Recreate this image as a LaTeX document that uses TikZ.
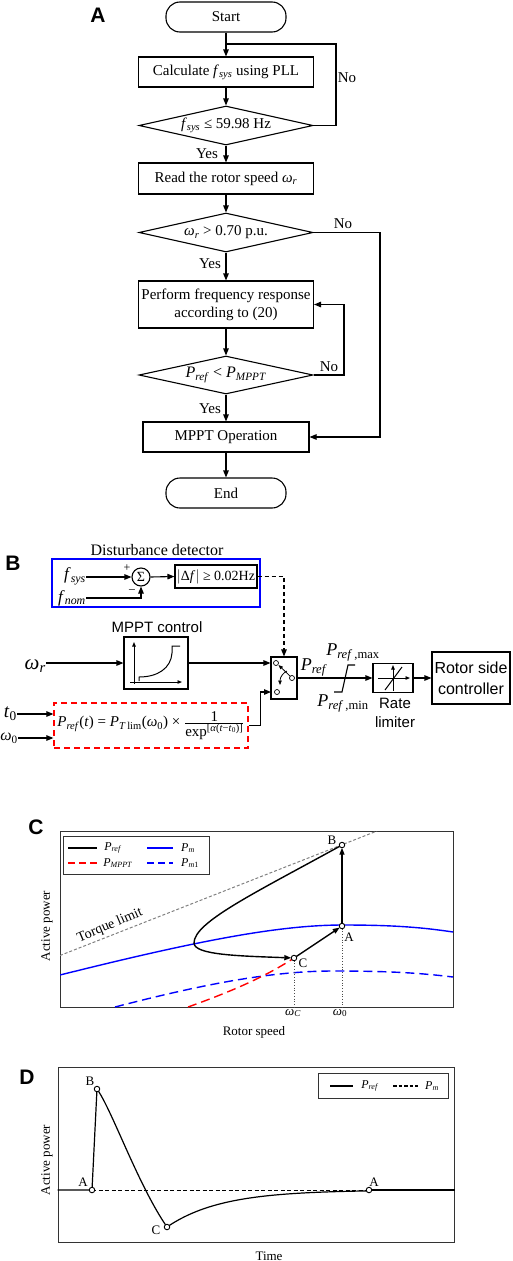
\documentclass[tikz,border=0pt]{standalone}
\usepackage{fontspec}
\setmainfont{Liberation Serif}
\newfontfamily\arialf{Liberation Sans}
\usetikzlibrary{arrows.meta,shapes.geometric,calc}
\newcommand{\iv}[2]{\textit{#1}\textsubscript{\textit{#2}}}
\newcommand{\fsz}[1]{\fontsize{#1}{#1}\selectfont}
\begin{document}
\begin{tikzpicture}[x=1pt,y=-1pt,
  fc/.style={draw, line width=1.1pt, font=\fontsize{15}{18}\selectfont, inner sep=0pt, align=center},
  proc/.style={fc, rectangle, minimum width=175pt, minimum height=30pt},
  term/.style={fc, rectangle, rounded corners=14pt, minimum width=120pt, minimum height=30pt},
  dec/.style={fc, diamond, aspect=4.46, minimum width=174pt, minimum height=39pt},
  ln/.style={line width=1.1pt},
  arr/.style={line width=1.1pt, -{Triangle[length=7pt,width=5.5pt]}},
  sarr/.style={line width=0.9pt, -{Triangle[length=4.5pt,width=3.5pt]}},
  lbl/.style={font=\fsz{15}, inner sep=0pt},
  panel/.style={font=\arialf\bfseries\fsz{21}, inner sep=0pt},
  ax/.style={font=\fsz{13}, inner sep=0pt},
  pt/.style={circle, draw, fill=white, line width=0.9pt, minimum size=5.5pt, inner sep=0pt},
  frame/.style={draw=black!80, line width=1pt, inner sep=0pt},
  curve/.style={line width=1.4pt},
  dsh/.style={dash pattern=on 9pt off 5pt},
]
\useasboundingbox (0,0) rectangle (512,1261);

% ================= Panel A =================
\node[panel] (lA) at (98,15) {A};
\node[term] (start) at (226,17) {Start};
\node[proc] (calc) at (226,72) {Calculate \iv{f}{sys} using PLL};
\node[dec] (d1) at (226,125.5) {\iv{f}{sys} ≤ 59.98 Hz};
\node[proc, minimum height=31pt] (read) at (226,178.5) {Read the rotor speed \iv{ω}{r}};
\node[dec] (d2) at (226,232.5) {\iv{ω}{r} > 0.70 p.u.};
\node[proc, minimum height=47pt] (perf) at (226,304.5) {Perform frequency response\\according to (20)};
\node[dec, minimum height=38pt, font=\fsz{16}] (d3) at (226,375) {\iv{P}{ref} < \iv{P}{MPPT}};
\node[proc, minimum width=166pt] (op) at (226,437) {MPPT Operation};
\node[term] (end) at (226,493) {End};

\coordinate (j1) at (226,44);
\coordinate (n1) at (336,44);
\coordinate (n2) at (380,232.5);
\coordinate (n3) at (344,375);

\draw[arr] (start) -- (calc);
\draw[ln] (d1.east) -| (n1) -- (j1);
\draw[arr] (calc) -- (d1);
\draw[arr] (d1) -- (read);
\draw[arr] (read) -- (d2);
\draw[arr] (d2) -- (perf);
\draw[arr] (d2.east) -- (n2) |- (op.east);
\draw[arr] (perf) -- (d3);
\draw[arr] (d3.east) -- (n3) |- (perf.east);
\draw[arr] (d3) -- (op);
\draw[arr] (op) -- (end);

\node[lbl] (no1) at (347,78) {No};
\node[lbl] (yes1) at (207,154) {Yes};
\node[lbl] (no2) at (343,224) {No};
\node[lbl] (yes2) at (210,264) {Yes};
\node[lbl] (no3) at (329,367) {No};
\node[lbl] (yes3) at (210,409) {Yes};

% ================= Panel B =================
\node[panel] (lB) at (13,563) {B};
\node[font=\fsz{16}, inner sep=0pt] (ddl) at (157,550) {Disturbance detector};
\node[draw=blue, line width=1.2pt, minimum width=208pt, minimum height=48pt, inner sep=0pt] (ddbox) at (156,583) {};
\node[font=\fsz{17}, inner sep=0pt, anchor=east] (fsys) at (86,576) {\iv{f}{sys}};
\node[font=\fsz{17}, inner sep=0pt, anchor=east] (fnom) at (86,598) {\iv{f}{nom}};
\node[circle, draw, line width=1.1pt, minimum size=18pt, inner sep=0pt, font=\fsz{14}] (sum) at (141,577) {Σ};
\node[font=\fsz{12}, inner sep=0pt] (plus) at (127,568) {+};
\node[font=\fsz{13}, inner sep=0pt] (minus) at (132,592) {−};
\node[draw, line width=1.1pt, minimum width=82pt, minimum height=23pt, inner sep=0pt, font=\fsz{14}] (df) at (216,576.5) {$\big|$Δ\textit{f}$\big|$ ≥ 0.02Hz};
\draw[arr] (fsys.east |- sum.west) -- (sum.west);
\draw[arr] (fnom.east) -| (sum.south);
\draw[arr] (sum.east) -- (df.west);

\node[font=\arialf\fsz{15}, inner sep=0pt] (mpl) at (157,627) {MPPT control};
\node[draw, line width=1.1pt, minimum width=64pt, minimum height=52pt, inner sep=0pt] (mb) at (156,663) {};
\draw[sarr] (134,684) -- (134,642);
\draw[sarr] (130,682) -- (182,682);
\draw[line width=1pt] (139,681) -- (139,677) .. controls (158,677) and (171,668) .. (172,653) -- (172,646) -- (180,646);

\node[font=\fsz{21}, inner sep=0pt, anchor=east] (wr) at (46,666) {\textit{ω}\textsubscript{\textit{r}}};
\draw[arr] (wr.east |- mb.west) -- (mb.west);

\node[draw, line width=1.1pt, minimum width=26pt, minimum height=42pt, inner sep=0pt] (sw) at (284,678) {};
\draw[arr, dash pattern=on 4pt off 3pt] (df.east) -| (sw.north);
\draw[arr] (mb.east) -- (mb.east -| sw.west);
\draw[sarr, line width=0.8pt] (291,677) -- (278.5,665);
\draw[sarr, line width=0.8pt] (287,671) .. controls (283,673) and (280,677) .. (280,685);
\node[pt, minimum size=5pt, line width=0.7pt] (s1) at (276,663) {};
\node[pt, minimum size=5pt, line width=0.7pt] (s2) at (292,678) {};
\node[pt, minimum size=5pt, line width=0.7pt] (s3) at (277,692) {};

\node[draw=red, line width=1.2pt, dash pattern=on 6pt off 4pt, minimum width=194pt, minimum height=45pt, inner sep=0pt, font=\fsz{15}] (rb) at (151,725.5)
  {$\mbox{\iv{P}{ref}(\textit{t}) = \textit{P}\textsubscript{\textit{T}\,lim}(\textit{ω}\textsubscript{0}) × }\frac{\mbox{1}}{\mbox{exp\textsuperscript{[\textit{α}(\textit{t}−\textit{t}\textsubscript{0})]}}}$};
\node[font=\fsz{19}, inner sep=0pt, anchor=east] (t0) at (17,714) {\textit{t}\textsubscript{0}};
\node[font=\fsz{16}, inner sep=0pt, anchor=east] (w0) at (18,738) {\textit{ω}\textsubscript{0}};
\draw[arr] (t0.east) -- (t0.east -| rb.west);
\draw[arr] (w0.east) -- (w0.east -| rb.west);
\coordinate (swin) at (271,692);
\draw[arr] (rb.east) -- ++(12,0) |- (swin);

\node[draw, line width=1.1pt, minimum width=40pt, minimum height=29pt, inner sep=0pt] (rl) at (393,678) {};
\draw[arr] (sw.east) -- (rl.west);
\draw[line width=1.1pt] (334,692) -- (342,692) -- (348,665) -- (355,665);
\draw[sarr] (378,678) -- (410,678);
\draw[sarr] (393,691) -- (393,665);
\draw[line width=1pt] (385,690) -- (402,667);
\node[font=\arialf\fontsize{15}{19}\selectfont, align=center, inner sep=0pt] (rll) at (395,712.5) {Rate\\limiter};
\node[draw, line width=1.1pt, minimum width=78pt, minimum height=52pt, inner sep=0pt, align=center, font=\arialf\fontsize{16}{21}\selectfont] (rsc) at (471,678) {Rotor side\\controller};
\draw[arr] (rl.east) -- (rsc.west);
\node[font=\fsz{18}, inner sep=0pt] (pref) at (314,667) {\iv{P}{ref}};
\node[font=\fsz{18}, inner sep=0pt] (pmax) at (353,652) {\textit{P}\textsubscript{\textit{ref}\,,max}};
\node[font=\fsz{18}, inner sep=0pt] (pmin) at (343,703) {\textit{P}\textsubscript{\textit{ref}\,,min}};

% ================= Panel C =================
\node[panel] (lC) at (36,827) {C};
\node[frame, minimum width=393pt, minimum height=176pt] (pc) at (256.5,919) {};
\coordinate (ca) at (342,926);
\coordinate (cb) at (342,845);
\coordinate (cc) at (294,958);
\coordinate (nose) at (194,943);
\begin{scope}
\clip (60,831) rectangle (453,1007);
\draw[gray, line width=1pt, dash pattern=on 3pt off 2pt] (60,955.5) -- (377,831);
\draw[blue, curve] (60,975) .. controls (200,940) and (280,925) .. (343,925) .. controls (390,925) and (420,927) .. (453,932);
\draw[blue, curve, dsh] (115,1007) .. controls (200,985) and (270,971) .. (333,971) .. controls (390,971) and (420,973) .. (453,977);
\draw[red, curve, dsh] (188,1007) .. controls (230,992) and (265,977) .. (294,958);
\end{scope}
\draw[black!70, dotted, line width=0.7pt] (cc) -- (cc |- pc.south);
\draw[black!70, dotted, line width=0.7pt] (ca) -- (ca |- pc.south);
\draw[curve, -{Triangle[length=7pt,width=5pt]}, shorten >=2.7pt] (ca) -- (cb);
\draw[curve, -{Triangle[length=7pt,width=5pt]}, shorten >=2.7pt] (cb) .. controls (255,893) and (194,922) .. (nose) .. controls (194,955) and (240,956) .. (cc);
\draw[curve, -{Triangle[length=7pt,width=5pt]}, shorten >=2.7pt, shorten <=2.7pt] (cc) -- (ca);
\node[pt] (A) at (ca) {};
\node[pt] (B) at (cb) {};
\node[pt] (C) at (cc) {};
\node[ax] (lAc) at (349,937) {A};
\node[ax] (lBc) at (332,840) {B};
\node[ax] (lCc) at (303,963) {C};
\node[ax] (wc) at (293,1013) {\textit{ω}\textsubscript{\textit{C}}};
\node[ax] (wz) at (340,1013) {\textit{ω}\textsubscript{0}};
\node[ax] (rs) at (254,1032) {Rotor speed};
\node[ax, rotate=90] (apc) at (47,926) {Active power};
\node[ax, font=\fsz{14}, rotate=23] (tl) at (110,925.5) {Torque limit};
\node[draw=black!80, line width=1pt, minimum width=146pt, minimum height=38pt, inner sep=0pt] (legc) at (136,855) {};
\draw[line width=1.3pt] (68,848) -- (97,848);
\draw[blue, line width=1.3pt] (147,848) -- (173,848);
\draw[red, line width=1.3pt, dash pattern=on 7pt off 4pt] (68,863) -- (97,863);
\draw[blue, line width=1.3pt, dash pattern=on 7pt off 4pt] (147,863) -- (173,863);
\node[font=\fsz{12}, inner sep=0pt] (lg1) at (113,848) {\iv{P}{ref}};
\node[font=\fsz{12}, inner sep=0pt] (lg2) at (188,848) {\iv{P}{m}};
\node[font=\fsz{12}, inner sep=0pt] (lg3) at (118,863) {\iv{P}{MPPT}};
\node[font=\fsz{12}, inner sep=0pt] (lg4) at (190,863) {\textit{P}\textsubscript{\textit{m}1}};

% ================= Panel D =================
\node[panel] (lD) at (27,1077) {D};
\node[frame, minimum width=396pt, minimum height=175pt] (pd) at (256,1154.5) {};
\coordinate (da1) at (92,1190);
\coordinate (db) at (97,1089);
\coordinate (dc) at (167,1227);
\coordinate (da2) at (369,1190);
\draw[line width=1pt, dash pattern=on 4pt off 2.5pt] (da1) -- (da2);
\draw[line width=1.2pt] (pd.west |- da1) -- (da1) -- (db) .. controls (112,1110) and (138,1185) .. (dc);
\draw[line width=1.2pt] plot[domain=167:369, samples=70] (\x,{1190+37*exp(-(\x-167)/54)});
\draw[line width=1.2pt] (da2) -- (da2 -| pd.east);
\node[pt] (A1) at (da1) {};
\node[pt] (B1) at (db) {};
\node[pt] (C1) at (dc) {};
\node[pt] (A2) at (da2) {};
\node[ax] (lA1) at (83,1182) {A};
\node[ax] (lB1) at (90,1081) {B};
\node[ax] (lC1) at (156,1230) {C};
\node[ax] (lA2) at (374,1182) {A};
\node[ax, rotate=90] (apd) at (47,1160) {Active power};
\node[ax] (tm) at (269,1256) {Time};
\node[draw=black!80, line width=1pt, minimum width=130pt, minimum height=25pt, inner sep=0pt] (legd) at (383,1085.5) {};
\draw[line width=1.2pt] (330,1086) -- (353,1086);
\draw[line width=1.2pt, dash pattern=on 3.5pt off 2pt] (393,1086) -- (418,1086);
\node[font=\fsz{12}, inner sep=0pt] (lgd1) at (370,1086) {\iv{P}{ref}};
\node[font=\fsz{12}, inner sep=0pt] (lgd2) at (432,1086) {\iv{P}{m}};
\end{tikzpicture}
\end{document}
